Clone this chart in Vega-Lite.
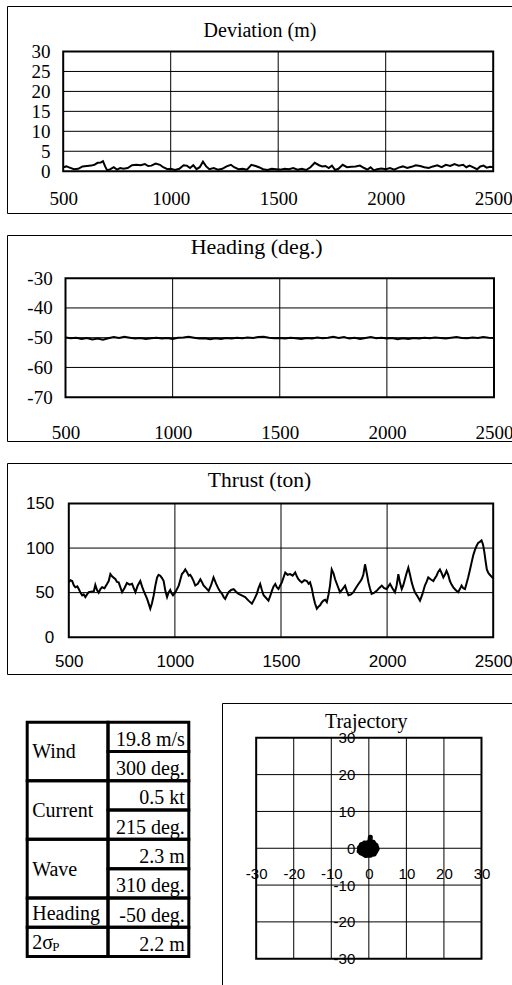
{
"$schema": "https://vega.github.io/schema/vega-lite/v6.json",
"padding": {"left": 6.5, "top": 5.5, "right": 0, "bottom": 0},
"background": "white",
"config": {"view": {"stroke": null}, "font": "Liberation Serif", "axis": {"labelOverlap": false, "labelSeparation": 0}},
"datasets": {
"deviation": [
{"t":500,"d":1.0},{"t":515,"d":1.2},{"t":530,"d":0.9},{"t":550,"d":0.5},{"t":570,"d":0.6},{"t":590,"d":1.2},{"t":610,"d":1.3},{"t":630,"d":1.4},{"t":645,"d":1.6},{"t":660,"d":2.1},{"t":675,"d":2.2},{"t":685,"d":2.5},{"t":695,"d":1.2},{"t":705,"d":0.2},{"t":720,"d":0.5},{"t":735,"d":1.0},{"t":750,"d":0.4},{"t":765,"d":0.8},{"t":780,"d":0.6},{"t":800,"d":0.8},{"t":820,"d":1.5},{"t":840,"d":1.6},{"t":860,"d":1.5},{"t":880,"d":1.8},{"t":895,"d":1.3},{"t":910,"d":1.4},{"t":930,"d":1.9},{"t":950,"d":1.6},{"t":965,"d":1.0},{"t":985,"d":0.5},{"t":1000,"d":0.6},{"t":1020,"d":0.3},{"t":1040,"d":0.6},{"t":1060,"d":1.5},{"t":1075,"d":1.4},{"t":1090,"d":0.8},{"t":1105,"d":1.5},{"t":1120,"d":0.5},{"t":1135,"d":1.0},{"t":1150,"d":2.4},{"t":1165,"d":1.2},{"t":1180,"d":0.5},{"t":1200,"d":0.8},{"t":1220,"d":0.4},{"t":1240,"d":0.6},{"t":1260,"d":1.2},{"t":1280,"d":1.6},{"t":1295,"d":1.0},{"t":1315,"d":0.5},{"t":1335,"d":0.6},{"t":1355,"d":0.4},{"t":1375,"d":1.6},{"t":1395,"d":1.3},{"t":1410,"d":1.0},{"t":1430,"d":0.5},{"t":1450,"d":0.3},{"t":1470,"d":0.6},{"t":1490,"d":0.5},{"t":1510,"d":0.4},{"t":1530,"d":0.6},{"t":1550,"d":0.5},{"t":1570,"d":0.8},{"t":1590,"d":0.4},{"t":1610,"d":0.6},{"t":1630,"d":0.3},{"t":1650,"d":1.0},{"t":1670,"d":2.1},{"t":1690,"d":1.5},{"t":1705,"d":1.2},{"t":1720,"d":1.3},{"t":1735,"d":0.8},{"t":1750,"d":1.4},{"t":1765,"d":0.3},{"t":1780,"d":0.6},{"t":1800,"d":1.6},{"t":1820,"d":1.0},{"t":1840,"d":1.1},{"t":1860,"d":1.2},{"t":1880,"d":1.4},{"t":1900,"d":0.8},{"t":1915,"d":0.4},{"t":1930,"d":1.0},{"t":1945,"d":0.2},{"t":1960,"d":0.5},{"t":1980,"d":0.7},{"t":2000,"d":0.5},{"t":2020,"d":0.8},{"t":2040,"d":0.4},{"t":2060,"d":0.9},{"t":2080,"d":1.2},{"t":2100,"d":0.8},{"t":2120,"d":1.1},{"t":2140,"d":1.5},{"t":2160,"d":1.3},{"t":2180,"d":1.0},{"t":2200,"d":0.8},{"t":2220,"d":1.2},{"t":2240,"d":1.5},{"t":2260,"d":1.0},{"t":2280,"d":1.6},{"t":2300,"d":1.3},{"t":2320,"d":1.8},{"t":2340,"d":1.4},{"t":2360,"d":1.6},{"t":2375,"d":1.0},{"t":2390,"d":1.4},{"t":2410,"d":0.9},{"t":2425,"d":0.5},{"t":2440,"d":1.2},{"t":2455,"d":1.4},{"t":2470,"d":0.9},{"t":2485,"d":1.1},{"t":2500,"d":1.0}
],
"heading": [
{"t":500,"h":-49.9},{"t":525,"h":-50.2},{"t":550,"h":-50.0},{"t":575,"h":-50.4},{"t":600,"h":-50.1},{"t":625,"h":-50.6},{"t":650,"h":-50.3},{"t":675,"h":-50.7},{"t":700,"h":-50.2},{"t":725,"h":-49.8},{"t":750,"h":-50.1},{"t":775,"h":-49.7},{"t":800,"h":-50.0},{"t":825,"h":-50.3},{"t":850,"h":-50.1},{"t":875,"h":-50.4},{"t":900,"h":-50.2},{"t":925,"h":-50.0},{"t":950,"h":-50.3},{"t":975,"h":-50.1},{"t":1000,"h":-50.4},{"t":1025,"h":-50.0},{"t":1050,"h":-49.9},{"t":1075,"h":-49.7},{"t":1100,"h":-50.0},{"t":1125,"h":-50.3},{"t":1150,"h":-50.2},{"t":1175,"h":-50.5},{"t":1200,"h":-50.2},{"t":1225,"h":-50.4},{"t":1250,"h":-50.1},{"t":1275,"h":-50.3},{"t":1300,"h":-50.0},{"t":1325,"h":-50.2},{"t":1350,"h":-49.9},{"t":1375,"h":-50.1},{"t":1400,"h":-49.8},{"t":1425,"h":-49.7},{"t":1450,"h":-50.0},{"t":1475,"h":-50.2},{"t":1500,"h":-50.1},{"t":1525,"h":-50.3},{"t":1550,"h":-50.0},{"t":1575,"h":-50.2},{"t":1600,"h":-50.4},{"t":1625,"h":-50.1},{"t":1650,"h":-50.3},{"t":1675,"h":-49.9},{"t":1700,"h":-50.2},{"t":1725,"h":-50.0},{"t":1750,"h":-49.7},{"t":1775,"h":-50.1},{"t":1800,"h":-49.8},{"t":1825,"h":-50.3},{"t":1850,"h":-50.0},{"t":1875,"h":-50.4},{"t":1900,"h":-50.1},{"t":1925,"h":-49.8},{"t":1950,"h":-50.2},{"t":1975,"h":-50.0},{"t":2000,"h":-50.3},{"t":2025,"h":-50.1},{"t":2050,"h":-50.5},{"t":2075,"h":-50.2},{"t":2100,"h":-50.4},{"t":2125,"h":-50.1},{"t":2150,"h":-50.3},{"t":2175,"h":-50.0},{"t":2200,"h":-50.2},{"t":2225,"h":-49.9},{"t":2250,"h":-50.1},{"t":2275,"h":-50.3},{"t":2300,"h":-50.0},{"t":2325,"h":-49.8},{"t":2350,"h":-50.1},{"t":2375,"h":-50.2},{"t":2400,"h":-49.9},{"t":2425,"h":-50.1},{"t":2450,"h":-49.8},{"t":2475,"h":-50.0},{"t":2500,"h":-50.1}
],
"thrust": [
{"t":500,"f":61.5},{"t":508,"f":64},{"t":516,"f":63},{"t":524,"f":58},{"t":531,"f":56},{"t":540,"f":57},{"t":547,"f":54},{"t":555,"f":50},{"t":563,"f":47},{"t":570,"f":48},{"t":578,"f":45},{"t":586,"f":48},{"t":594,"f":50.5},{"t":605,"f":51},{"t":618,"f":51.6},{"t":625,"f":58.6},{"t":633,"f":53},{"t":641,"f":50},{"t":649,"f":54},{"t":657,"f":56},{"t":668,"f":55},{"t":680,"f":59.7},{"t":688,"f":63},{"t":696,"f":70.8},{"t":705,"f":68},{"t":720,"f":65},{"t":727,"f":62},{"t":735,"f":61.5},{"t":743,"f":56},{"t":751,"f":50.5},{"t":762,"f":55},{"t":774,"f":60.8},{"t":786,"f":59},{"t":798,"f":60},{"t":806,"f":55},{"t":814,"f":50.5},{"t":825,"f":58},{"t":837,"f":63},{"t":845,"f":57},{"t":853,"f":52},{"t":860,"f":48},{"t":869,"f":43},{"t":876,"f":38},{"t":884,"f":32},{"t":892,"f":38},{"t":900,"f":46.8},{"t":908,"f":58},{"t":916,"f":67},{"t":923,"f":70},{"t":931,"f":69},{"t":940,"f":66},{"t":947,"f":63},{"t":955,"f":52},{"t":963,"f":45},{"t":970,"f":50},{"t":978,"f":53},{"t":985,"f":49},{"t":991,"f":47},{"t":1002,"f":50.5},{"t":1010,"f":54},{"t":1018,"f":57.9},{"t":1025,"f":64},{"t":1033,"f":70.8},{"t":1041,"f":73},{"t":1049,"f":76},{"t":1057,"f":73},{"t":1065,"f":69},{"t":1072,"f":70},{"t":1080,"f":67},{"t":1088,"f":63},{"t":1096,"f":58},{"t":1108,"f":60},{"t":1120,"f":65},{"t":1127,"f":62},{"t":1135,"f":58},{"t":1147,"f":55},{"t":1159,"f":52},{"t":1170,"f":58},{"t":1182,"f":67},{"t":1194,"f":60},{"t":1206,"f":54},{"t":1214,"f":51},{"t":1222,"f":48.6},{"t":1230,"f":45},{"t":1237,"f":43},{"t":1245,"f":47},{"t":1253,"f":50.5},{"t":1265,"f":53},{"t":1277,"f":54},{"t":1288,"f":51},{"t":1300,"f":48.6},{"t":1315,"f":47},{"t":1331,"f":45},{"t":1347,"f":41},{"t":1363,"f":37.6},{"t":1375,"f":43},{"t":1386,"f":48.6},{"t":1394,"f":55},{"t":1402,"f":59.7},{"t":1410,"f":53},{"t":1418,"f":47},{"t":1430,"f":44},{"t":1441,"f":41},{"t":1449,"f":46},{"t":1457,"f":52},{"t":1465,"f":57},{"t":1473,"f":59.7},{"t":1480,"f":56},{"t":1488,"f":54},{"t":1496,"f":58},{"t":1504,"f":61.5},{"t":1512,"f":67},{"t":1520,"f":72.6},{"t":1531,"f":70},{"t":1543,"f":70.8},{"t":1555,"f":69},{"t":1567,"f":72.6},{"t":1575,"f":68},{"t":1582,"f":65},{"t":1590,"f":63},{"t":1598,"f":61.5},{"t":1610,"f":64},{"t":1622,"f":63},{"t":1630,"f":60},{"t":1637,"f":61.5},{"t":1645,"f":55},{"t":1653,"f":45},{"t":1660,"f":38},{"t":1669,"f":32},{"t":1676,"f":34},{"t":1684,"f":35.8},{"t":1692,"f":39},{"t":1700,"f":41},{"t":1708,"f":42},{"t":1716,"f":39.4},{"t":1724,"f":48},{"t":1731,"f":57.9},{"t":1739,"f":76},{"t":1747,"f":72},{"t":1755,"f":65},{"t":1766,"f":58},{"t":1778,"f":50.5},{"t":1790,"f":54},{"t":1802,"f":57.9},{"t":1810,"f":52},{"t":1818,"f":47},{"t":1830,"f":48},{"t":1841,"f":50.5},{"t":1852,"f":55},{"t":1865,"f":59.7},{"t":1872,"f":62},{"t":1880,"f":65},{"t":1888,"f":70},{"t":1896,"f":81.8},{"t":1904,"f":72},{"t":1912,"f":61.5},{"t":1920,"f":54},{"t":1927,"f":48.6},{"t":1940,"f":50},{"t":1951,"f":52},{"t":1962,"f":55},{"t":1975,"f":57.9},{"t":1986,"f":55},{"t":1998,"f":54},{"t":2006,"f":57},{"t":2014,"f":59.7},{"t":2025,"f":55},{"t":2037,"f":50.5},{"t":2045,"f":58},{"t":2053,"f":70.8},{"t":2060,"f":62},{"t":2069,"f":54},{"t":2076,"f":58},{"t":2084,"f":65},{"t":2092,"f":72},{"t":2100,"f":78},{"t":2108,"f":70},{"t":2116,"f":61.5},{"t":2124,"f":55},{"t":2131,"f":50.5},{"t":2143,"f":46},{"t":2155,"f":41},{"t":2166,"f":48},{"t":2178,"f":57.9},{"t":2186,"f":62},{"t":2194,"f":67},{"t":2205,"f":65},{"t":2218,"f":63},{"t":2225,"f":66},{"t":2233,"f":69},{"t":2240,"f":73},{"t":2249,"f":76},{"t":2257,"f":72},{"t":2265,"f":67},{"t":2272,"f":70},{"t":2280,"f":74.5},{"t":2288,"f":70},{"t":2296,"f":63},{"t":2304,"f":59},{"t":2312,"f":56},{"t":2323,"f":53},{"t":2335,"f":50.5},{"t":2343,"f":54},{"t":2351,"f":57.9},{"t":2359,"f":55},{"t":2367,"f":54},{"t":2374,"f":60},{"t":2382,"f":67},{"t":2390,"f":75},{"t":2398,"f":83.7},{"t":2406,"f":92},{"t":2414,"f":98},{"t":2421,"f":102},{"t":2429,"f":105.8},{"t":2437,"f":107},{"t":2445,"f":108.5},{"t":2452,"f":104},{"t":2458,"f":96},{"t":2464,"f":85.5},{"t":2470,"f":76},{"t":2476,"f":72.6},{"t":2484,"f":70},{"t":2492,"f":68},{"t":2500,"f":66}
],
"trajectory": [
{"i":0,"x":0,"y":0},{"i":1,"x":-1.5,"y":0.8},{"i":2,"x":-2.5,"y":0.2},{"i":3,"x":-2.2,"y":-1.2},{"i":4,"x":-1,"y":-1.8},{"i":5,"x":0.5,"y":-1.9},{"i":6,"x":1.8,"y":-1.0},{"i":7,"x":2.1,"y":0.3},{"i":8,"x":1.2,"y":1.6},{"i":9,"x":0.3,"y":2.0},{"i":10,"x":0.4,"y":3.0},{"i":11,"x":0.2,"y":1.2},{"i":12,"x":-1.2,"y":1.4},{"i":13,"x":-2.4,"y":-0.5},{"i":14,"x":-1.5,"y":-1.5},{"i":15,"x":0,"y":-1.2},{"i":16,"x":1.5,"y":-0.3},{"i":17,"x":0.8,"y":0.9},{"i":18,"x":-0.6,"y":0.5},{"i":19,"x":-1.8,"y":-0.2},{"i":20,"x":-0.5,"y":-0.9},{"i":21,"x":1.0,"y":-1.5},{"i":22,"x":1.9,"y":0.8},{"i":23,"x":0,"y":1.6},{"i":24,"x":-2.0,"y":1.0},{"i":25,"x":-2.6,"y":-0.8},{"i":26,"x":-0.8,"y":-2.0},{"i":27,"x":1.4,"y":-1.6},{"i":28,"x":2.2,"y":-0.2},{"i":29,"x":0.6,"y":0.2}
],
"table": [
{"label":"Wind","c0":0,"c1":1,"r0":0,"r1":2},
{"label":"19.8 m/s","c0":1,"c1":2,"r0":0,"r1":1},
{"label":"300 deg.","c0":1,"c1":2,"r0":1,"r1":2},
{"label":"Current","c0":0,"c1":1,"r0":2,"r1":4},
{"label":"0.5 kt","c0":1,"c1":2,"r0":2,"r1":3},
{"label":"215 deg.","c0":1,"c1":2,"r0":3,"r1":4},
{"label":"Wave","c0":0,"c1":1,"r0":4,"r1":6},
{"label":"2.3 m","c0":1,"c1":2,"r0":4,"r1":5},
{"label":"310 deg.","c0":1,"c1":2,"r0":5,"r1":6},
{"label":"Heading","c0":0,"c1":1,"r0":6,"r1":7},
{"label":"-50 deg.","c0":1,"c1":2,"r0":6,"r1":7},
{"label":"2σ","sub":"P","c0":0,"c1":1,"r0":7,"r1":8},
{"label":"2.2 m","c0":1,"c1":2,"r0":7,"r1":8}
]
},
"spacing": 22,
"bounds": "flush",
"vconcat": [
{
"width": 505, "height": 207,
"resolve": {"axis": {"y": "independent"}},
"layer": [
{"data": {"values": [{"v":5},{"v":10},{"v":15},{"v":20},{"v":25}]}, "mark": {"type": "rule", "color": "black", "strokeWidth": 1},
 "encoding": {"y": {"field": "v", "type": "quantitative", "scale": {"domain": [-10.60, 41.28], "nice": false, "zero": false},
   "axis": {"values": [5,15,25], "labelExpr": "'' + datum.value", "orient": "right", "offset": -462.5, "domain": false, "ticks": false, "tickSize": 0, "grid": false, "labelPadding": 0, "labelBaseline": "middle", "labelAlign": "right", "labelFont": "Liberation Serif", "labelFontSize": 19, "labelColor": "black", "labelFlush": false, "labelOverlap": false, "labelBound": false, "title": null}},
  "x": {"datum": 500, "type": "quantitative", "scale": {"domain": [240.93, 2589.77], "nice": false, "zero": false}}, "x2": {"datum": 2500}}},
{"data": {"values": [{"v":1000},{"v":1500},{"v":2000}]}, "mark": {"type": "rule", "color": "black", "strokeWidth": 1},
 "encoding": {"x": {"field": "v", "type": "quantitative", "scale": {"domain": [240.93, 2589.77], "nice": false, "zero": false}},
  "y": {"datum": 0, "type": "quantitative", "scale": {"domain": [-10.60, 41.28], "nice": false, "zero": false}, "axis": null}, "y2": {"datum": 30}}},
{"data": {"name": "deviation"}, "mark": {"type": "line", "color": "black", "strokeWidth": 2},
 "encoding": {
  "x": {"field": "t", "type": "quantitative", "scale": {"domain": [240.93, 2589.77], "nice": false, "zero": false},
   "axis": {"values": [500,1000,1500,2000,2500], "labelExpr": "'' + datum.value", "orient": "bottom", "offset": -14.7, "domain": false, "ticks": false, "tickSize": 0, "grid": false, "labelPadding": 0, "labelBaseline": "middle", "labelAlign": "center", "labelFont": "Liberation Serif", "labelFontSize": 19, "labelColor": "black", "labelFlush": false, "labelOverlap": false, "labelBound": false, "title": null}},
  "y": {"field": "d", "type": "quantitative", "scale": {"domain": [-10.60, 41.28], "nice": false, "zero": false},
   "axis": {"values": [0,10,20,30], "labelExpr": "'' + datum.value", "orient": "left", "offset": -42.5, "domain": false, "ticks": false, "tickSize": 0, "grid": false, "labelPadding": 0, "labelBaseline": "middle", "labelAlign": "right", "labelFont": "Liberation Serif", "labelFontSize": 19, "labelColor": "black", "labelFlush": false, "labelOverlap": false, "labelBound": false, "title": null}}}},
{"data": {"values": [{}]}, "mark": {"type": "rect", "filled": false, "stroke": "black", "strokeWidth": 2},
 "encoding": {"x": {"datum": 500, "type": "quantitative", "scale": {"domain": [240.93, 2589.77], "nice": false, "zero": false}}, "x2": {"datum": 2500},
  "y": {"datum": 0, "type": "quantitative", "scale": {"domain": [-10.60, 41.28], "nice": false, "zero": false}, "axis": null}, "y2": {"datum": 30}}},
{"data": {"values": [{"title": "Deviation (m)"}]}, "mark": {"type": "text", "font": "Liberation Serif", "fontSize": 20, "align": "center", "baseline": "middle", "color": "black"},
 "encoding": {"x": {"datum": 1415.3, "type": "quantitative", "scale": {"domain": [240.93, 2589.77], "nice": false, "zero": false}},
  "y": {"datum": 35.09, "type": "quantitative", "scale": {"domain": [-10.60, 41.28], "nice": false, "zero": false}, "axis": null}, "text": {"field": "title"}}},
{"data": {"values": [{}]}, "mark": {"type": "rule", "color": "black", "strokeWidth": 1},
 "encoding": {"x": {"datum": 240.93, "type": "quantitative", "scale": {"domain": [240.93, 2589.77], "nice": false, "zero": false}},
  "y": {"datum": -10.60, "type": "quantitative", "scale": {"domain": [-10.60, 41.28], "nice": false, "zero": false}, "axis": null}, "y2": {"datum": 41.28}}},
{"data": {"values": [{}]}, "mark": {"type": "rule", "color": "black", "strokeWidth": 1},
 "encoding": {"x": {"datum": 240.93, "type": "quantitative", "scale": {"domain": [240.93, 2589.77], "nice": false, "zero": false}}, "x2": {"datum": 2589.77},
  "y": {"datum": 41.28, "type": "quantitative", "scale": {"domain": [-10.60, 41.28], "nice": false, "zero": false}, "axis": null}}},
{"data": {"values": [{}]}, "mark": {"type": "rule", "color": "black", "strokeWidth": 1},
 "encoding": {"x": {"datum": 240.93, "type": "quantitative", "scale": {"domain": [240.93, 2589.77], "nice": false, "zero": false}}, "x2": {"datum": 2589.77},
  "y": {"datum": -10.60, "type": "quantitative", "scale": {"domain": [-10.60, 41.28], "nice": false, "zero": false}, "axis": null}}}
]
},
{
"width": 505, "height": 206,
"layer": [
{"data": {"values": [{"v":-40},{"v":-50},{"v":-60}]}, "mark": {"type": "rule", "color": "black", "strokeWidth": 1},
 "encoding": {"y": {"field": "v", "type": "quantitative", "scale": {"domain": [-84.89, -15.65], "nice": false, "zero": false}},
  "x": {"datum": 500, "type": "quantitative", "scale": {"domain": [229.29, 2586.33], "nice": false, "zero": false}}, "x2": {"datum": 2500}}},
{"data": {"values": [{"v":1000},{"v":1500},{"v":2000}]}, "mark": {"type": "rule", "color": "black", "strokeWidth": 1},
 "encoding": {"x": {"field": "v", "type": "quantitative", "scale": {"domain": [229.29, 2586.33], "nice": false, "zero": false}},
  "y": {"datum": -70, "type": "quantitative", "scale": {"domain": [-84.89, -15.65], "nice": false, "zero": false}}, "y2": {"datum": -30}}},
{"data": {"name": "heading"}, "mark": {"type": "line", "color": "black", "strokeWidth": 2},
 "encoding": {
  "x": {"field": "t", "type": "quantitative", "scale": {"domain": [229.29, 2586.33], "nice": false, "zero": false},
   "axis": {"values": [500,1000,1500,2000,2500], "labelExpr": "'' + datum.value", "orient": "bottom", "offset": -9.5, "domain": false, "ticks": false, "tickSize": 0, "grid": false, "labelPadding": 0, "labelBaseline": "middle", "labelAlign": "center", "labelFont": "Liberation Serif", "labelFontSize": 19, "labelColor": "black", "labelFlush": false, "labelOverlap": false, "labelBound": false, "title": null}},
  "y": {"field": "h", "type": "quantitative", "scale": {"domain": [-84.89, -15.65], "nice": false, "zero": false},
   "axis": {"values": [-70,-60,-50,-40,-30], "labelExpr": "'' + datum.value", "orient": "left", "offset": -44.7, "domain": false, "ticks": false, "tickSize": 0, "grid": false, "labelPadding": 0, "labelBaseline": "middle", "labelAlign": "right", "labelFont": "Liberation Serif", "labelFontSize": 19, "labelColor": "black", "labelFlush": false, "labelOverlap": false, "labelBound": false, "title": null}}}},
{"data": {"values": [{}]}, "mark": {"type": "rect", "filled": false, "stroke": "black", "strokeWidth": 2},
 "encoding": {"x": {"datum": 500, "type": "quantitative", "scale": {"domain": [229.29, 2586.33], "nice": false, "zero": false}}, "x2": {"datum": 2500},
  "y": {"datum": -70, "type": "quantitative", "scale": {"domain": [-84.89, -15.65], "nice": false, "zero": false}}, "y2": {"datum": -30}}},
{"data": {"values": [{"title": "Heading (deg.)"}]}, "mark": {"type": "text", "font": "Liberation Serif", "fontSize": 22, "align": "center", "baseline": "middle", "color": "black"},
 "encoding": {"x": {"datum": 1392, "type": "quantitative", "scale": {"domain": [229.29, 2586.33], "nice": false, "zero": false}},
  "y": {"datum": -19.58, "type": "quantitative", "scale": {"domain": [-84.89, -15.65], "nice": false, "zero": false}}, "text": {"field": "title"}}},
{"data": {"values": [{}]}, "mark": {"type": "rule", "color": "black", "strokeWidth": 1},
 "encoding": {"x": {"datum": 229.29, "type": "quantitative", "scale": {"domain": [229.29, 2586.33], "nice": false, "zero": false}},
  "y": {"datum": -84.89, "type": "quantitative", "scale": {"domain": [-84.89, -15.65], "nice": false, "zero": false}}, "y2": {"datum": -15.65}}},
{"data": {"values": [{}]}, "mark": {"type": "rule", "color": "black", "strokeWidth": 1},
 "encoding": {"x": {"datum": 229.29, "type": "quantitative", "scale": {"domain": [229.29, 2586.33], "nice": false, "zero": false}}, "x2": {"datum": 2586.33},
  "y": {"datum": -15.65, "type": "quantitative", "scale": {"domain": [-84.89, -15.65], "nice": false, "zero": false}}}},
{"data": {"values": [{}]}, "mark": {"type": "rule", "color": "black", "strokeWidth": 1},
 "encoding": {"x": {"datum": 229.29, "type": "quantitative", "scale": {"domain": [229.29, 2586.33], "nice": false, "zero": false}}, "x2": {"datum": 2586.33},
  "y": {"datum": -84.89, "type": "quantitative", "scale": {"domain": [-84.89, -15.65], "nice": false, "zero": false}}}}
]
},
{
"width": 505, "height": 211,
"layer": [
{"data": {"values": [{"v":50},{"v":100}]}, "mark": {"type": "rule", "color": "black", "strokeWidth": 1},
 "encoding": {"y": {"field": "v", "type": "quantitative", "scale": {"domain": [-41.85, 194.88], "nice": false, "zero": false}},
  "x": {"datum": 500, "type": "quantitative", "scale": {"domain": [211.12, 2590.95], "nice": false, "zero": false}}, "x2": {"datum": 2500}}},
{"data": {"values": [{"v":1000},{"v":1500},{"v":2000}]}, "mark": {"type": "rule", "color": "black", "strokeWidth": 1},
 "encoding": {"x": {"field": "v", "type": "quantitative", "scale": {"domain": [211.12, 2590.95], "nice": false, "zero": false}},
  "y": {"datum": 0, "type": "quantitative", "scale": {"domain": [-41.85, 194.88], "nice": false, "zero": false}}, "y2": {"datum": 150}}},
{"data": {"name": "thrust"}, "mark": {"type": "line", "color": "black", "strokeWidth": 2},
 "encoding": {
  "x": {"field": "t", "type": "quantitative", "scale": {"domain": [211.12, 2590.95], "nice": false, "zero": false},
   "axis": {"values": [500,1000,1500,2000,2500], "labelExpr": "'' + datum.value", "orient": "bottom", "offset": -13, "domain": false, "ticks": false, "tickSize": 0, "grid": false, "labelPadding": 0, "labelBaseline": "middle", "labelAlign": "center", "labelFont": "Liberation Sans", "labelFontSize": 17, "labelColor": "black", "labelFlush": false, "labelOverlap": false, "labelBound": false, "title": null}},
  "y": {"field": "f", "type": "quantitative", "scale": {"domain": [-41.85, 194.88], "nice": false, "zero": false},
   "axis": {"values": [0,50,100,150], "labelExpr": "'' + datum.value", "orient": "left", "offset": -46.3, "domain": false, "ticks": false, "tickSize": 0, "grid": false, "labelPadding": 0, "labelBaseline": "middle", "labelAlign": "right", "labelFont": "Liberation Sans", "labelFontSize": 17, "labelColor": "black", "labelFlush": false, "labelOverlap": false, "labelBound": false, "title": null}}}},
{"data": {"values": [{}]}, "mark": {"type": "rect", "filled": false, "stroke": "black", "strokeWidth": 2},
 "encoding": {"x": {"datum": 500, "type": "quantitative", "scale": {"domain": [211.12, 2590.95], "nice": false, "zero": false}}, "x2": {"datum": 2500},
  "y": {"datum": 0, "type": "quantitative", "scale": {"domain": [-41.85, 194.88], "nice": false, "zero": false}}, "y2": {"datum": 150}}},
{"data": {"values": [{"title": "Thrust (ton)"}]}, "mark": {"type": "text", "font": "Liberation Serif", "fontSize": 21.5, "align": "center", "baseline": "middle", "color": "black"},
 "encoding": {"x": {"datum": 1398.7, "type": "quantitative", "scale": {"domain": [211.12, 2590.95], "nice": false, "zero": false}},
  "y": {"datum": 175.02, "type": "quantitative", "scale": {"domain": [-41.85, 194.88], "nice": false, "zero": false}}, "text": {"field": "title"}}},
{"data": {"values": [{}]}, "mark": {"type": "rule", "color": "black", "strokeWidth": 1},
 "encoding": {"x": {"datum": 211.12, "type": "quantitative", "scale": {"domain": [211.12, 2590.95], "nice": false, "zero": false}},
  "y": {"datum": -41.85, "type": "quantitative", "scale": {"domain": [-41.85, 194.88], "nice": false, "zero": false}}, "y2": {"datum": 194.88}}},
{"data": {"values": [{}]}, "mark": {"type": "rule", "color": "black", "strokeWidth": 1},
 "encoding": {"x": {"datum": 211.12, "type": "quantitative", "scale": {"domain": [211.12, 2590.95], "nice": false, "zero": false}}, "x2": {"datum": 2590.95},
  "y": {"datum": 194.88, "type": "quantitative", "scale": {"domain": [-41.85, 194.88], "nice": false, "zero": false}}}},
{"data": {"values": [{}]}, "mark": {"type": "rule", "color": "black", "strokeWidth": 1},
 "encoding": {"x": {"datum": 211.12, "type": "quantitative", "scale": {"domain": [211.12, 2590.95], "nice": false, "zero": false}}, "x2": {"datum": 2590.95},
  "y": {"datum": -41.85, "type": "quantitative", "scale": {"domain": [-41.85, 194.88], "nice": false, "zero": false}}}}
]
},
{
"spacing": 7,
"bounds": "flush",
"hconcat": [
{
"width": 208, "height": 289,
"data": {"name": "table"},
"transform": [{"calculate": "(datum.r0 + datum.r1) / 2", "as": "rm"}],
"layer": [
{"mark": {"type": "rect", "filled": false, "stroke": "black", "strokeWidth": 3},
 "encoding": {"x": {"field": "c0", "type": "quantitative", "scale": {"domain": [-0.2438, 2.3304], "nice": false, "zero": false}, "axis": null}, "x2": {"field": "c1"},
  "y": {"field": "r0", "type": "quantitative", "scale": {"domain": [-0.8775, 8.990], "nice": false, "zero": false, "reverse": true}, "axis": null}, "y2": {"field": "r1"}}},
{"transform": [{"filter": "datum.c0 == 0"}],
 "mark": {"type": "text", "align": "left", "baseline": "middle", "dx": 5, "dy": 1, "font": "Liberation Serif", "fontSize": 20, "color": "black"},
 "encoding": {"x": {"field": "c0", "type": "quantitative", "scale": {"domain": [-0.2438, 2.3304], "nice": false, "zero": false}, "axis": null},
  "y": {"field": "rm", "type": "quantitative", "scale": {"domain": [-0.8775, 8.990], "nice": false, "zero": false, "reverse": true}, "axis": null},
  "text": {"field": "label"}}},
{"transform": [{"filter": "datum.c0 == 1"}],
 "mark": {"type": "text", "align": "right", "baseline": "middle", "dx": -4, "dy": 3, "font": "Liberation Serif", "fontSize": 20, "color": "black"},
 "encoding": {"x": {"field": "c1", "type": "quantitative", "scale": {"domain": [-0.2438, 2.3304], "nice": false, "zero": false}, "axis": null},
  "y": {"field": "rm", "type": "quantitative", "scale": {"domain": [-0.8775, 8.990], "nice": false, "zero": false, "reverse": true}, "axis": null},
  "text": {"field": "label"}}},
{"transform": [{"filter": "datum.sub"}],
 "mark": {"type": "text", "align": "left", "baseline": "middle", "dx": 25, "dy": 5, "font": "Liberation Serif", "fontSize": 13, "color": "black"},
 "encoding": {"x": {"field": "c0", "type": "quantitative", "scale": {"domain": [-0.2438, 2.3304], "nice": false, "zero": false}, "axis": null},
  "y": {"field": "rm", "type": "quantitative", "scale": {"domain": [-0.8775, 8.990], "nice": false, "zero": false, "reverse": true}, "axis": null},
  "text": {"field": "sub"}}}
]
},
{
"width": 290, "height": 289,
"layer": [
{"data": {"values": [{"v":-20},{"v":-10},{"v":0},{"v":10},{"v":20}]}, "mark": {"type": "rule", "color": "black", "strokeWidth": 1},
 "encoding": {"y": {"field": "v", "type": "quantitative", "scale": {"domain": [-37.28, 41.22], "nice": false, "zero": false}},
  "x": {"datum": -30, "type": "quantitative", "scale": {"domain": [-38.97, 38.26], "nice": false, "zero": false}}, "x2": {"datum": 30}}},
{"data": {"values": [{"v":-20},{"v":-10},{"v":0},{"v":10},{"v":20}]}, "mark": {"type": "rule", "color": "black", "strokeWidth": 1},
 "encoding": {"x": {"field": "v", "type": "quantitative", "scale": {"domain": [-38.97, 38.26], "nice": false, "zero": false}},
  "y": {"datum": -30, "type": "quantitative", "scale": {"domain": [-37.28, 41.22], "nice": false, "zero": false}}, "y2": {"datum": 30}}},
{"data": {"name": "trajectory"}, "mark": {"type": "line", "color": "black", "strokeWidth": 5, "strokeJoin": "round", "strokeCap": "round"},
 "encoding": {
  "order": {"field": "i", "type": "quantitative"},
  "x": {"field": "x", "type": "quantitative", "scale": {"domain": [-38.97, 38.26], "nice": false, "zero": false},
   "axis": {"values": [-30,-20,-10,0,10,20,30], "labelExpr": "'' + datum.value", "orient": "bottom", "offset": -112, "domain": false, "ticks": false, "tickSize": 0, "grid": false, "labelPadding": 0, "labelBaseline": "middle", "labelAlign": "center", "labelFont": "Liberation Sans", "labelFontSize": 15, "labelColor": "black", "labelFlush": false, "labelOverlap": false, "labelBound": false, "title": null}},
  "y": {"field": "y", "type": "quantitative", "scale": {"domain": [-37.28, 41.22], "nice": false, "zero": false},
   "axis": {"values": [-30,-20,-10,0,10,20,30], "labelExpr": "'' + datum.value", "orient": "left", "offset": -132.3, "domain": false, "ticks": false, "tickSize": 0, "grid": false, "labelPadding": 0, "labelBaseline": "middle", "labelAlign": "right", "labelFont": "Liberation Sans", "labelFontSize": 15, "labelColor": "black", "labelFlush": false, "labelOverlap": false, "labelBound": false, "title": null}}}},
{"data": {"values": [{}]}, "mark": {"type": "rect", "filled": false, "stroke": "black", "strokeWidth": 2},
 "encoding": {"x": {"datum": -30, "type": "quantitative", "scale": {"domain": [-38.97, 38.26], "nice": false, "zero": false}}, "x2": {"datum": 30},
  "y": {"datum": -30, "type": "quantitative", "scale": {"domain": [-37.28, 41.22], "nice": false, "zero": false}}, "y2": {"datum": 30}}},
{"data": {"values": [{"title": "Trajectory"}]}, "mark": {"type": "text", "font": "Liberation Serif", "fontSize": 20, "align": "center", "baseline": "middle", "color": "black"},
 "encoding": {"x": {"datum": -0.7, "type": "quantitative", "scale": {"domain": [-38.97, 38.26], "nice": false, "zero": false}},
  "y": {"datum": 34.24, "type": "quantitative", "scale": {"domain": [-37.28, 41.22], "nice": false, "zero": false}}, "text": {"field": "title"}}},
{"data": {"values": [{}]}, "mark": {"type": "rule", "color": "black", "strokeWidth": 1},
 "encoding": {"x": {"datum": -38.97, "type": "quantitative", "scale": {"domain": [-38.97, 38.26], "nice": false, "zero": false}},
  "y": {"datum": -37.28, "type": "quantitative", "scale": {"domain": [-37.28, 41.22], "nice": false, "zero": false}}, "y2": {"datum": 39.32}}},
{"data": {"values": [{}]}, "mark": {"type": "rule", "color": "black", "strokeWidth": 1},
 "encoding": {"x": {"datum": -38.97, "type": "quantitative", "scale": {"domain": [-38.97, 38.26], "nice": false, "zero": false}}, "x2": {"datum": 38.26},
  "y": {"datum": 39.32, "type": "quantitative", "scale": {"domain": [-37.28, 41.22], "nice": false, "zero": false}}}}
]
}
]
}
]
}
